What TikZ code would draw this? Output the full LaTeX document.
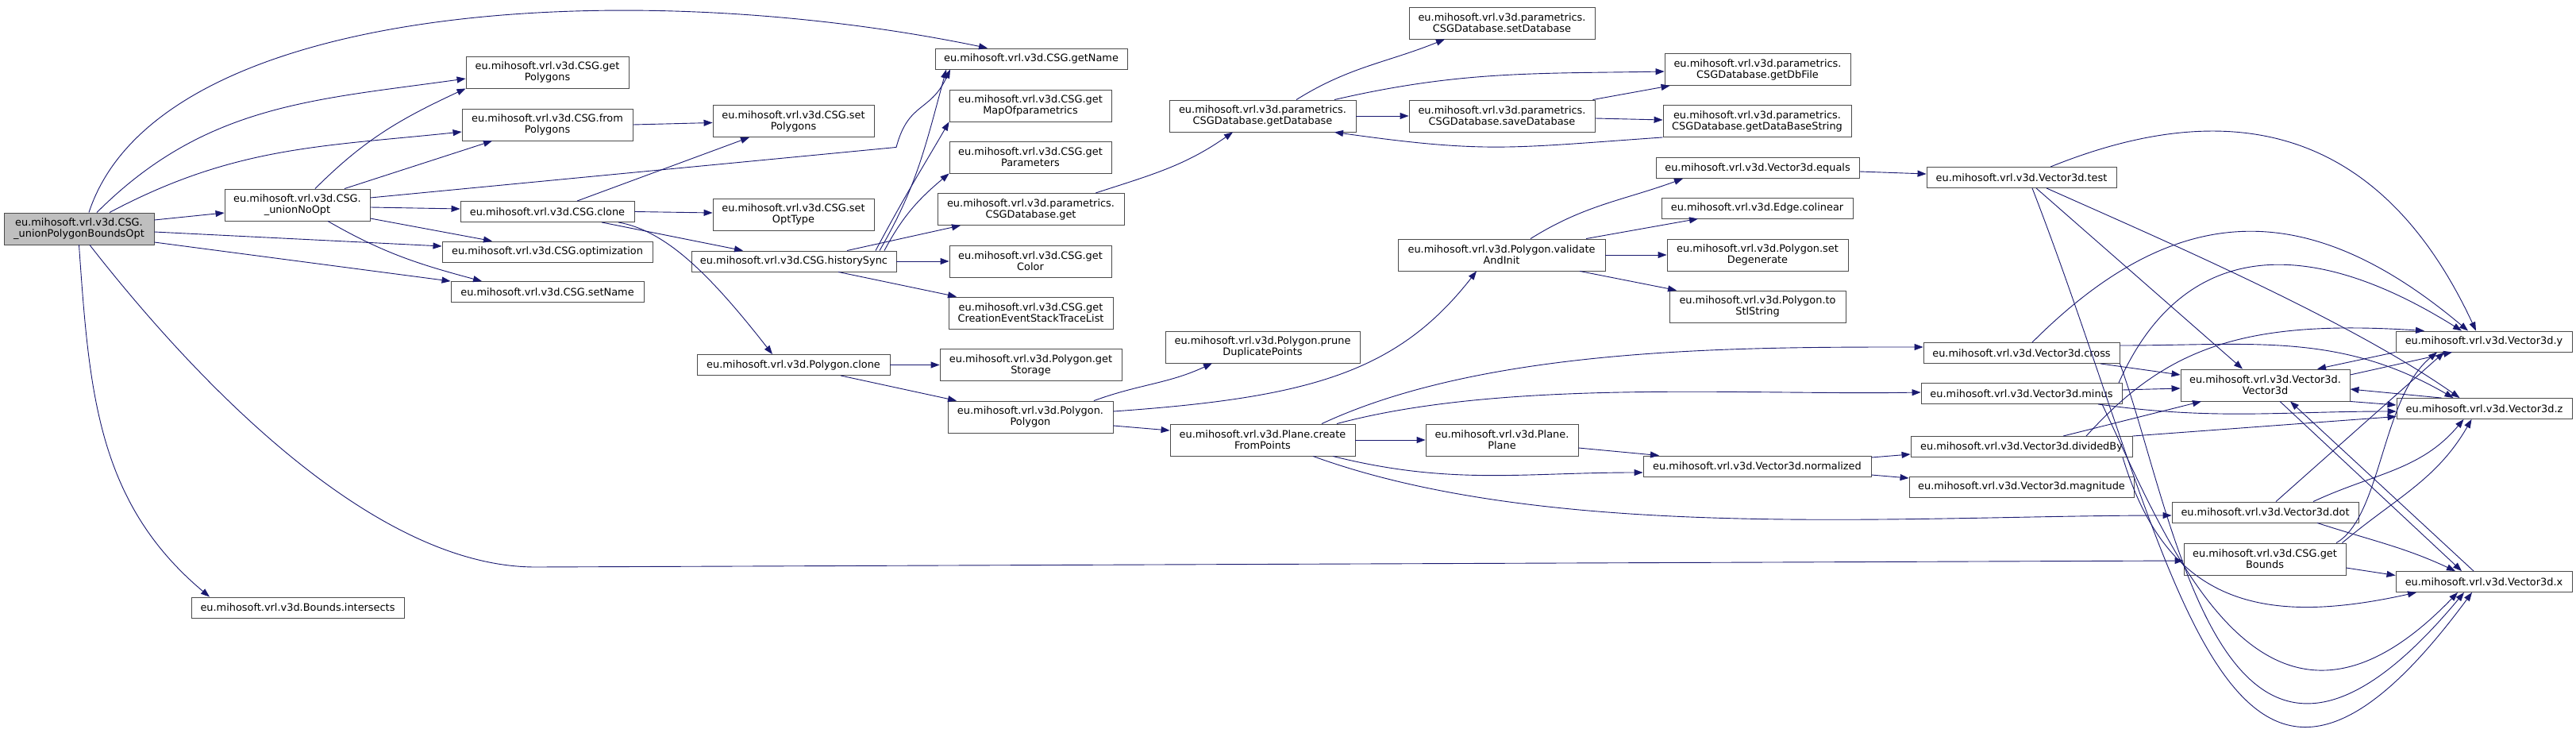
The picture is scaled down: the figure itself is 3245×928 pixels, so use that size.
\documentclass[tikz,border=0pt]{standalone}
\usepackage{fontspec}
\setmainfont{DejaVu Sans}
\usepackage{tikz}
\usetikzlibrary{arrows.meta}

\definecolor{callblue}{HTML}{191970}
\definecolor{rootgray}{HTML}{BFBFBF}
\newcommand{\fnfont}{\fontsize{12.9}{14}\selectfont}

\begin{document}
\begin{tikzpicture}[
	x=1pt, y=1pt,
	% function boxes
	fnbox/.style={draw=black!70, fill=white, line width=0.9pt, inner sep=0pt, align=center, font=\fnfont, minimum height=26},
	twoline/.style={minimum height=40},
	rootbox/.style={fnbox, twoline, fill=rootgray},
	% call arrows
	calls/.style={draw=callblue, line width=0.9pt, -{Triangle[length=11pt, width=8pt]}}
	]

	\fill[white] (0,0) rectangle (3245,-928);
	\useasboundingbox (0,0) rectangle (3245,-928);

	% --- CSG ---
	\node[rootbox, minimum width=189] (root) at (99.5,-288) {eu.mihosoft.vrl.v3d.CSG.\\\_unionPolygonBoundsOpt};
	\node[fnbox, twoline, minimum width=183] (unionNoOpt) at (374.5,-258) {eu.mihosoft.vrl.v3d.CSG.\\\_unionNoOpt};
	\node[fnbox, twoline, minimum width=205] (getPolygons) at (689.5,-91) {eu.mihosoft.vrl.v3d.CSG.get\\Polygons};
	\node[fnbox, twoline, minimum width=215] (fromPolygons) at (689.5,-157) {eu.mihosoft.vrl.v3d.CSG.from\\Polygons};
	\node[fnbox, minimum width=219] (csgClone) at (689.5,-266.5) {eu.mihosoft.vrl.v3d.CSG.clone};
	\node[fnbox, minimum width=265] (optimization) at (689.5,-317) {eu.mihosoft.vrl.v3d.CSG.optimization};
	\node[fnbox, minimum width=243] (setName) at (689.5,-367.5) {eu.mihosoft.vrl.v3d.CSG.setName};
	\node[fnbox, minimum width=268] (boundsInt) at (375,-765) {eu.mihosoft.vrl.v3d.Bounds.intersects};
	\node[fnbox, twoline, minimum width=203] (setPolygons) at (999.5,-152.5) {eu.mihosoft.vrl.v3d.CSG.set\\Polygons};
	\node[fnbox, twoline, minimum width=203] (setOptType) at (999.5,-270) {eu.mihosoft.vrl.v3d.CSG.set\\OptType};
	\node[fnbox, minimum width=258] (historySync) at (1000,-329) {eu.mihosoft.vrl.v3d.CSG.historySync};
	\node[fnbox, minimum width=243] (polyClone) at (999.5,-459.5) {eu.mihosoft.vrl.v3d.Polygon.clone};
	\node[fnbox, minimum width=242] (getName) at (1299,-74) {eu.mihosoft.vrl.v3d.CSG.getName};
	\node[fnbox, twoline, minimum width=204] (getMap) at (1298,-133) {eu.mihosoft.vrl.v3d.CSG.get\\MapOfparametrics};
	\node[fnbox, twoline, minimum width=204] (getParams) at (1298,-198) {eu.mihosoft.vrl.v3d.CSG.get\\Parameters};
	\node[fnbox, twoline, minimum width=235] (dbGet) at (1298.5,-263.5) {eu.mihosoft.vrl.v3d.parametrics.\\CSGDatabase.get};
	\node[fnbox, twoline, minimum width=204] (getColor) at (1298,-329) {eu.mihosoft.vrl.v3d.CSG.get\\Color};
	\node[fnbox, twoline, minimum width=207] (getTrace) at (1298.5,-394) {eu.mihosoft.vrl.v3d.CSG.get\\CreationEventStackTraceList};
	\node[fnbox, twoline, minimum width=229] (getStorage) at (1298.5,-459.5) {eu.mihosoft.vrl.v3d.Polygon.get\\Storage};
	\node[fnbox, twoline, minimum width=208] (polyPolygon) at (1298,-525) {eu.mihosoft.vrl.v3d.Polygon.\\Polygon};

	% --- database / polygon ---
	\node[fnbox, twoline, minimum width=235] (getDatabase) at (1590.5,-146) {eu.mihosoft.vrl.v3d.parametrics.\\CSGDatabase.getDatabase};
	\node[fnbox, twoline, minimum width=245] (prune) at (1590.5,-437) {eu.mihosoft.vrl.v3d.Polygon.prune\\DuplicatePoints};
	\node[fnbox, twoline, minimum width=233] (fromPoints) at (1590.5,-554) {eu.mihosoft.vrl.v3d.Plane.create\\FromPoints};
	\node[fnbox, twoline, minimum width=234] (setDatabase) at (1892,-29) {eu.mihosoft.vrl.v3d.parametrics.\\CSGDatabase.setDatabase};
	\node[fnbox, twoline, minimum width=234] (saveDatabase) at (1892,-146) {eu.mihosoft.vrl.v3d.parametrics.\\CSGDatabase.saveDatabase};
	\node[fnbox, twoline, minimum width=261] (validate) at (1891.5,-321) {eu.mihosoft.vrl.v3d.Polygon.validate\\AndInit};
	\node[fnbox, twoline, minimum width=192] (plane) at (1892,-554) {eu.mihosoft.vrl.v3d.Plane.\\Plane};
	\node[fnbox, twoline, minimum width=234] (getDbFile) at (2214,-87.5) {eu.mihosoft.vrl.v3d.parametrics.\\CSGDatabase.getDbFile};
	\node[fnbox, twoline, minimum width=237] (getDbString) at (2213.5,-152.5) {eu.mihosoft.vrl.v3d.parametrics.\\CSGDatabase.getDataBaseString};
	\node[fnbox, minimum width=256] (equals) at (2214,-211.5) {eu.mihosoft.vrl.v3d.Vector3d.equals};
	\node[fnbox, minimum width=241] (colinear) at (2213.5,-262) {eu.mihosoft.vrl.v3d.Edge.colinear};
	\node[fnbox, twoline, minimum width=228] (setDegenerate) at (2214,-321) {eu.mihosoft.vrl.v3d.Polygon.set\\Degenerate};
	\node[fnbox, twoline, minimum width=222] (toStl) at (2214,-386) {eu.mihosoft.vrl.v3d.Polygon.to\\StlString};
	\node[fnbox, minimum width=287] (normalized) at (2213.5,-587) {eu.mihosoft.vrl.v3d.Vector3d.normalized};

	% --- Vector3d ---
	\node[fnbox, minimum width=239] (test) at (2546.5,-223.5) {eu.mihosoft.vrl.v3d.Vector3d.test};
	\node[fnbox, minimum width=247] (cross) at (2546.5,-444.5) {eu.mihosoft.vrl.v3d.Vector3d.cross};
	\node[fnbox, minimum width=253] (minus) at (2546.5,-495.5) {eu.mihosoft.vrl.v3d.Vector3d.minus};
	\node[fnbox, minimum width=279] (dividedBy) at (2546.5,-562.5) {eu.mihosoft.vrl.v3d.Vector3d.dividedBy};
	\node[fnbox, minimum width=283] (magnitude) at (2546.5,-613) {eu.mihosoft.vrl.v3d.Vector3d.magnitude};
	\node[fnbox, twoline, minimum width=213] (vec) at (2853.5,-485) {eu.mihosoft.vrl.v3d.Vector3d.\\Vector3d};
	\node[fnbox, minimum width=235] (dot) at (2853.5,-645) {eu.mihosoft.vrl.v3d.Vector3d.dot};
	\node[fnbox, twoline, minimum width=204] (getBounds) at (2853,-704) {eu.mihosoft.vrl.v3d.CSG.get\\Bounds};
	\node[fnbox, minimum width=222] (vy) at (3129,-430) {eu.mihosoft.vrl.v3d.Vector3d.y};
	\node[fnbox, minimum width=221] (vz) at (3129.5,-514.5) {eu.mihosoft.vrl.v3d.Vector3d.z};
	\node[fnbox, minimum width=222] (vx) at (3129,-732.5) {eu.mihosoft.vrl.v3d.Vector3d.x};

	% --- calls from the root ---
	\draw[calls] ([xshift=12.5]root.north) .. controls +(88,268) and +(-444,92) .. ([xshift=-55]getName.north);
	\draw[calls] ([xshift=22.5]root.north) to[out=45, in=188] ([yshift=-8]getPolygons.west);
	\draw[calls] ([xshift=38.5]root.north) to[out=28, in=186] ([yshift=-9]fromPolygons.west);
	\draw[calls] ([yshift=11]root.east) -- ([yshift=-10]unionNoOpt.west);
	\draw[calls] ([yshift=-4]root.east) -- ([yshift=7]optimization.west);
	\draw[calls] ([yshift=-17]root.east) -- (setName.north west);
	\draw[calls] (root.south) to[out=-86, in=140] ([xshift=-111]boundsInt.north);
	\draw[calls] ([xshift=13.5]root.south) .. controls +(-52:208) and +(180:208) .. ([xshift=-2076, yshift=-10]getBounds.west) -- ([yshift=-2]getBounds.west);

	% --- CSG calls ---
	\draw[calls] ([xshift=22.5]unionNoOpt.north) to[out=45, in=205] (getPolygons.south west);
	\draw[calls] ([xshift=59.5]unionNoOpt.north) -- ([xshift=-69.5]fromPolygons.south);
	\draw[calls] ([yshift=9]unionNoOpt.east) -- ([xshift=-170, yshift=-98]getName.south) .. controls +(75:60) and +(-115:60) .. ([xshift=-102]getName.south);
	\draw[calls] ([yshift=-3]unionNoOpt.east) -- ([yshift=3.5]csgClone.west);
	\draw[calls] ([yshift=-17]unionNoOpt.east) -- ([xshift=-69.5]optimization.north);
	\draw[calls] ([xshift=38.5]unionNoOpt.south) to[out=-30, in=165] ([xshift=-82.5]setName.north);
	\draw[calls] (fromPolygons.east) -- ([yshift=-2]setPolygons.west);
	\draw[calls] ([xshift=37.5]csgClone.north) -- ([xshift=-55.5]setPolygons.south);
	\draw[calls] (csgClone.east) -- ([yshift=2]setOptType.west);
	\draw[calls] ([xshift=68.5]csgClone.south) -- ([xshift=-64]historySync.north);
	\draw[calls] ([xshift=89.5]csgClone.south) .. controls +(-10:60) and +(128:130) .. ([xshift=-26.5]polyClone.north);
	\draw[calls] ([xshift=108]historySync.north) .. controls +(60:90) and +(-105:110) .. ([xshift=-107]getName.south);
	\draw[calls] ([xshift=103]historySync.north) .. controls +(62:80) and +(-120:60) .. (getMap.south west);
	\draw[calls] ([xshift=114]historySync.north) to[out=62, in=-140] (getParams.south west);
	\draw[calls] ([xshift=67]historySync.north) -- ([xshift=-88.5]dbGet.south);
	\draw[calls] (historySync.east) -- (getColor.west);
	\draw[calls] ([xshift=56]historySync.south) -- ([xshift=-93.5]getTrace.north);

	% --- database calls ---
	\draw[calls] ([xshift=81.5]dbGet.north) to[out=18, in=-145] ([xshift=-37.5]getDatabase.south);
	\draw[calls] ([xshift=42.5]getDatabase.north) to[out=32, in=-158] ([xshift=-72]setDatabase.south);
	\draw[calls] ([xshift=90.5]getDatabase.north) to[out=13, in=181] ([yshift=-2.5]getDbFile.west);
	\draw[calls] (getDatabase.east) -- (saveDatabase.west);
	\draw[calls] ([xshift=-3]saveDatabase.north east) -- ([xshift=7]getDbFile.south west);
	\draw[calls] ([yshift=-3]saveDatabase.east) -- ([yshift=1.5]getDbString.west);
	\draw[calls] (getDbString.south west) to[out=184, in=-8, looseness=1.2] ([xshift=90.5]getDatabase.south);

	% --- polygon calls ---
	\draw[calls] (polyClone.east) -- (getStorage.west);
	\draw[calls] ([xshift=59.5]polyClone.south) -- ([xshift=-93]polyPolygon.north);
	\draw[calls] ([xshift=80]polyPolygon.north) to[out=20, in=-155] ([xshift=-63.5]prune.south);
	\draw[calls] ([yshift=7]polyPolygon.east) .. controls +(4:248) and +(232:162) .. ([xshift=-31.5]validate.south);
	\draw[calls] ([yshift=-11]polyPolygon.east) -- ([yshift=12]fromPoints.west);
	\draw[calls] ([xshift=36.5]validate.north) to[out=32, in=-160] ([xshift=-94]equals.south);
	\draw[calls] ([xshift=106.5]validate.north) -- ([xshift=-74.5]colinear.south);
	\draw[calls] (validate.east) -- (setDegenerate.west);
	\draw[calls] ([xshift=98.5]validate.south) -- ([xshift=-102]toStl.north);
	\draw[calls] ([yshift=-4.5]equals.east) -- ([yshift=4.5]test.west);

	% --- plane calls ---
	\draw[calls] ([xshift=74.5]fromPoints.north) .. controls +(25:230) and +(180:230) .. ([yshift=7.5]cross.west);
	\draw[calls] ([xshift=93.5]fromPoints.north) .. controls +(15:220) and +(181:220) .. ([yshift=1.5]minus.west);
	\draw[calls] (fromPoints.east) -- (plane.west);
	\draw[calls] ([xshift=88.5]fromPoints.south) to[out=-14, in=180] ([yshift=-8]normalized.west);
	\draw[calls] ([xshift=63.5]fromPoints.south) .. controls +(-20:320) and +(180:330) .. ([yshift=-4]dot.west);
	\draw[calls] ([yshift=-10]plane.east) -- ([xshift=-123.5]normalized.north);
	\draw[calls] ([yshift=11]normalized.east) -- ([yshift=-9.5]dividedBy.west);
	\draw[calls] ([yshift=-11]normalized.east) -- ([yshift=11]magnitude.west);

	% --- Vector3d calls ---
	\draw[calls] ([xshift=36.5]test.north) .. controls +(22:250) and +(115:280) .. ([xshift=-10]vy.north);
	\draw[calls] ([xshift=18.5]test.south) -- ([xshift=-28.5]vec.north);
	\draw[calls] ([xshift=31.5]test.south) .. controls +(-24:170) and +(145:170) .. ([xshift=-31]vz.north);
	\draw[calls] ([xshift=13.5]test.south) .. controls +(180,-464) and +(-314,-425) .. ([xshift=-15]vx.south);
	\draw[calls] ([xshift=13.5]cross.north) .. controls +(45:260) and +(140:260) .. ([xshift=-20]vy.north);
	\draw[calls] ([xshift=99.5]cross.south) -- ([yshift=13]vec.west);
	\draw[calls] ([yshift=9.5]cross.east) to[out=0, in=150] ([xshift=-39]vz.north);
	\draw[calls] (cross.south east) .. controls +(71,-193) and +(-304,-365) .. ([xshift=-25]vx.south);
	\draw[calls] ([xshift=122.5]minus.north) .. controls +(66:190) and +(148:240) .. ([xshift=-28]vy.north);
	\draw[calls] ([yshift=4.5]minus.east) -- ([yshift=-4]vec.west);
	\draw[calls] ([xshift=96.5]minus.south) to[out=-8, in=180] ([yshift=-3.5]vz.west);
	\draw[calls] ([xshift=101.5]minus.south) .. controls +(82,-172) and +(-246,-255) .. ([xshift=-33]vx.south);
	\draw[calls] ([xshift=52.5]dividedBy.north) -- ([xshift=-80.5]vec.south);
	\draw[calls] ([xshift=81.5]dividedBy.north) .. controls +(100,110) and +(-230,15) .. ([xshift=-75]vy.north);
	\draw[calls] (dividedBy.north east) -- ([yshift=-10]vz.west);
	\draw[calls] ([xshift=127.5]dividedBy.south) .. controls +(56,-185) and +(-194,-43) .. ([xshift=-85]vx.south);
	\draw[calls] ([xshift=13.5]dot.north) -- ([xshift=-50]vy.south);
	\draw[calls] ([xshift=60.5]dot.north) to[out=25, in=-130] ([xshift=-26]vz.south);
	\draw[calls] ([xshift=65.5]dot.south) to[out=-18, in=155] ([xshift=-36]vx.north);
	\draw[calls] ([xshift=90]getBounds.north) .. controls +(57,33) and +(-70,-57) .. ([xshift=-59]vy.south);
	\draw[calls] ([xshift=-5]getBounds.north east) to[out=40, in=-120] ([xshift=-16]vz.south);
	\draw[calls] ([yshift=-11]getBounds.east) -- ([yshift=8]vx.west);
	\draw[calls] (vy.south west) -- ([xshift=65.5]vec.north);
	\draw[calls] ([yshift=13]vec.east) -- ([xshift=-40]vy.south);
	\draw[calls] (vec.south east) -- ([yshift=4.5]vz.west);
	\draw[calls] ([xshift=18.5]vec.south) -- ([xshift=-28]vx.north);
	\draw[calls] ([xshift=-54]vz.north) -- ([yshift=-5]vec.east);
	\draw[calls] ([xshift=-13]vx.north) -- ([xshift=31.5]vec.south);

\end{tikzpicture}
\end{document}
